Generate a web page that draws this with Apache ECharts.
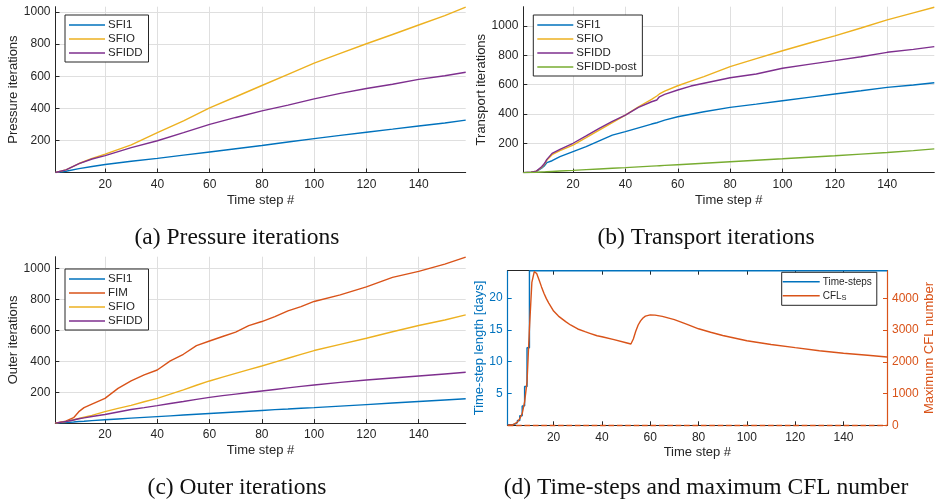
<!DOCTYPE html>
<html><head><meta charset="utf-8">
<script src="https://cdn.jsdelivr.net/npm/echarts@6/dist/echarts.min.js"></script>
<style>html,body{margin:0;padding:0;background:#fff}#c{width:937px;height:504px}</style>
</head><body><div id="c"></div>
<script>
// ---------- data ----------
const xTicks = [20, 40, 60, 80, 100, 120, 140];

// (a) Pressure iterations
const stepsA = [1,5,10,15,20,30,40,50,60,70,80,90,100,110,120,130,140,150,158];
const pressSFI1  = [0,8,24,37,50,70,88,108,128,148,168,190,211,231,251,270,290,308,326];
const pressSFIO  = [0,16,56,88,115,172,249,322,403,472,542,612,681,742,802,860,919,977,1030];
const pressSFIDD = [0,16,55,84,105,155,198,248,300,343,384,420,459,493,523,550,580,603,625];
const yTicksA = [200, 400, 600, 800, 1000];

// (b) Transport iterations
const stepsB = [1,4,6,8,9,10,12,15,20,25,30,35,40,45,50,52,53,55,60,65,70,80,90,100,110,120,130,140,150,158];
const transSFI1  = [0,2,8,30,45,68,81,109,143,177,217,255,279,305,331,340,346,358,381,398,415,445,467,490,513,536,558,581,597,613];
const transSFIO  = [0,2,9,35,55,85,122,150,188,238,290,340,392,449,499,522,536,556,592,624,654,722,777,831,882,932,986,1041,1089,1127];
const transSFIDD = [0,2,10,40,60,90,131,158,200,250,302,350,392,444,483,495,517,533,563,590,609,647,672,711,738,763,790,820,840,859];
const transPost  = [0,1,2,4,5,6,8,11,15,20,25,30,34,39,44,46,47,49,54,59,64,74,84,94,105,115,126,137,150,162];
const yTicksB = [200, 400, 600, 800, 1000];

// (c) Outer iterations
const stepsC = [1,5,8,10,12,15,20,25,30,35,40,45,50,55,60,65,70,75,80,85,90,95,100,110,120,130,140,150,158];
const outerSFI1  = [0,4,7,10,12,16,22,27,32,37,42,47,52,57,62,67,72,77,82,87,91,96,100,110,120,130,140,150,158];
const outerFIM   = [0,13,35,74,100,123,160,225,273,312,344,403,446,502,532,561,589,632,658,690,727,755,788,831,883,944,983,1030,1075];
const outerSFIO  = [0,10,22,30,38,50,74,95,115,138,160,188,215,245,273,298,322,346,370,395,420,445,470,510,550,592,632,668,701];
const outerSFIDD = [0,10,20,28,34,43,56,72,88,100,113,127,140,154,167,178,188,198,208,218,228,238,247,264,279,292,305,318,329];
const yTicksC = [200, 400, 600, 800, 1000];

// (d) Time-steps and maximum CFL number
const tsSteps = [1,2,3,4,5,6,7,8,9,10,158];
const tsDays  = [0.1,0.1,0.2,0.4,0.75,1.5,3.05,6.1,12.2,24.3,24.3];
const cflSteps = [1,3,5,6,7,8,9,10,11,12,13,14,15,16,17,18,20,22,25,27,30,33,35,38,40,45,50,52,53,54,55,56,57,58,60,62,65,70,75,80,85,90,100,110,120,130,140,150,158];
const cflS = [0,10,100,210,370,740,1370,3050,4500,4840,4780,4580,4360,4160,3990,3850,3600,3440,3265,3160,3034,2950,2898,2820,2790,2700,2600,2560,2720,2960,3160,3290,3380,3440,3480,3470,3430,3330,3190,3040,2930,2830,2665,2545,2446,2350,2268,2205,2150];
const yTicksDLeft = [5, 10, 15, 20];
const yTicksDRight = [0, 1000, 2000, 3000, 4000];

// ---------- styling ----------
const C = {blue:'#0072BD', orange:'#D95319', yellow:'#EDB120', purple:'#7E2F8E', green:'#77AC30'};
const AX = '#262626', GRID = '#dfdfdf';
const FONT = '"Liberation Sans", Arial, sans-serif';
const SERIF = '"Liberation Serif", "Times New Roman", serif';
const plain = v => String(v);

function pairs(xs, ys){ return xs.map((x,i)=>[x, ys[i]]); }

function xAxisOf(gi, opts){
  return Object.assign({
    type:'value', gridIndex:gi, min:1, max:158,
    name:'Time step #', nameLocation:'middle', nameGap:21,
    nameTextStyle:{color:AX, fontSize:13, fontFamily:FONT},
    axisLine:{show:true, onZero:false, lineStyle:{color:AX, width:1}},
    axisTick:{show:true, inside:true, length:4, customValues:xTicks, lineStyle:{color:AX}},
    axisLabel:{show:true, customValues:xTicks, color:AX, fontSize:12, fontFamily:FONT, margin:6, formatter:plain},
    splitLine:{show:true, lineStyle:{color:GRID, width:1}}
  }, opts||{});
}
function yAxisOf(gi, max, ticks, name, gap, opts){
  return Object.assign({
    type:'value', gridIndex:gi, min:0, max:max,
    name:name, nameLocation:'middle', nameGap:gap,
    nameTextStyle:{color:AX, fontSize:13, fontFamily:FONT},
    axisLine:{show:true, onZero:false, lineStyle:{color:AX, width:1}},
    axisTick:{show:true, inside:true, length:4, customValues:ticks, lineStyle:{color:AX}},
    axisLabel:{show:true, customValues:ticks, color:AX, fontSize:12, fontFamily:FONT, margin:5, formatter:plain},
    splitLine:{show:true, lineStyle:{color:GRID, width:1}}
  }, opts||{});
}
function lineS(name, xi, yi, xs, ys, color, extra){
  return Object.assign({
    name:name, type:'line', xAxisIndex:xi, yAxisIndex:yi, data:pairs(xs, ys),
    showSymbol:false, symbol:'none', lineStyle:{color:color, width:1.4}, itemStyle:{color:color},
    animation:false, clip:true
  }, extra||{});
}
function legendOf(names, left, top, pad){
  return {
    data:names, orient:'vertical', left:left, top:top, itemGap:0,
    itemWidth:36, itemHeight:1.6, icon:'rect',
    backgroundColor:'#fff', borderColor:AX, borderWidth:1, borderRadius:0,
    padding:pad || [3,6,2,4], selectedMode:false,
    textStyle:{color:AX, fontSize:11.5, fontFamily:FONT, lineHeight:14, padding:[0,0,0,-2]}
  };
}

const chart = echarts.init(document.getElementById('c'), null, {renderer:'canvas'});
const option = {
  animation:false,
  backgroundColor:'#fff',
  grid:[
    {left:55.5, top:6.7, width:410.2, height:165.8},
    {left:523.3, top:6.7, width:411, height:165.9},
    {left:55.3, top:256.7, width:410.4, height:166.4},
    {left:507.7, top:270.7, width:384, height:154.6}
  ],
  xAxis:[
    xAxisOf(0), xAxisOf(1), xAxisOf(2),
    xAxisOf(3, {splitLine:{show:false}}),
    xAxisOf(3, {position:'top', name:'', axisLabel:{show:false, customValues:xTicks}, splitLine:{show:false}})
  ],
  yAxis:[
    yAxisOf(0, 1033, yTicksA, 'Pressure iterations', 31),
    yAxisOf(1, 1131, yTicksB, 'Transport iterations', 29),
    yAxisOf(2, 1078, yTicksC, 'Outer iterations', 30),
    yAxisOf(3, 24.3, yTicksDLeft, 'Time-step length [days]', 15.5, {
      nameTextStyle:{color:C.blue, fontSize:13, fontFamily:FONT},
      axisLine:{show:true, onZero:false, lineStyle:{color:C.blue, width:1.2}},
      axisTick:{show:true, inside:true, length:4, customValues:yTicksDLeft, lineStyle:{color:C.blue}},
      axisLabel:{show:true, customValues:yTicksDLeft, color:C.blue, fontSize:12, fontFamily:FONT, margin:5, formatter:plain},
      splitLine:{show:false}
    }),
    yAxisOf(3, 4870, yTicksDRight, 'Maximum CFL number', 36, {
      position:'right',
      nameTextStyle:{color:C.orange, fontSize:13, fontFamily:FONT},
      axisLine:{show:true, onZero:false, lineStyle:{color:C.orange, width:1.2}},
      axisTick:{show:true, inside:true, length:4, customValues:yTicksDRight, lineStyle:{color:C.orange}},
      axisLabel:{show:true, customValues:yTicksDRight, color:C.orange, fontSize:12, fontFamily:FONT, margin:5, formatter:plain},
      splitLine:{show:false}
    })
  ],
  legend:[
    legendOf(['SFI1','SFIO','SFIDD'], 65, 15),
    legendOf(['SFI1','SFIO','SFIDD','SFIDD-post'], 533.3, 15),
    legendOf(['SFI1','FIM','SFIO','SFIDD'], 65, 269),
    Object.assign(legendOf(['Time-steps','CFLS'], 781.7, 272.3, [3,5,3,1]), {
      itemWidth:37,
      formatter: function(n){ return n === 'CFLS' ? '{n|CFL}{s|S}' : n; },
      textStyle:{color:AX, fontSize:10, fontFamily:FONT, lineHeight:13, padding:[0,0,0,-2],
        rich:{ n:{fontSize:10, fontFamily:FONT, color:AX, lineHeight:13},
               s:{fontSize:7.5, fontFamily:FONT, color:AX, verticalAlign:'bottom', lineHeight:8, padding:[6,0,0,0]} } }
    })
  ],
  series:[
    lineS('SFI1', 0, 0, stepsA, pressSFI1, C.blue),
    lineS('SFIO', 0, 0, stepsA, pressSFIO, C.yellow),
    lineS('SFIDD', 0, 0, stepsA, pressSFIDD, C.purple),

    lineS('SFI1', 1, 1, stepsB, transSFI1, C.blue),
    lineS('SFIO', 1, 1, stepsB, transSFIO, C.yellow),
    lineS('SFIDD', 1, 1, stepsB, transSFIDD, C.purple),
    lineS('SFIDD-post', 1, 1, stepsB, transPost, C.green),

    lineS('SFI1', 2, 2, stepsC, outerSFI1, C.blue),
    lineS('FIM', 2, 2, stepsC, outerFIM, C.orange),
    lineS('SFIO', 2, 2, stepsC, outerSFIO, C.yellow),
    lineS('SFIDD', 2, 2, stepsC, outerSFIDD, C.purple),

    lineS('Time-steps', 3, 3, tsSteps, tsDays, C.blue, {step:'end', clip:false}),
    lineS('CFLS', 3, 4, cflSteps, cflS, C.orange, {
      markLine:{silent:true, symbol:'none', animation:false, label:{show:false},
        lineStyle:{color:C.orange, type:'dashed', width:1.4}, data:[{yAxis:0}]}})
  ],
  graphic:[
    {type:'text', x:237, y:238, style:{text:'(a) Pressure iterations', fontSize:23.5, fontFamily:SERIF, fill:'#111', align:'center', verticalAlign:'middle'}},
    {type:'text', x:706, y:238, style:{text:'(b) Transport iterations', fontSize:23.5, fontFamily:SERIF, fill:'#111', align:'center', verticalAlign:'middle'}},
    {type:'text', x:237, y:488, style:{text:'(c) Outer iterations', fontSize:23.5, fontFamily:SERIF, fill:'#111', align:'center', verticalAlign:'middle'}},
    {type:'text', x:706, y:488, style:{text:'(d) Time-steps and maximum CFL number', fontSize:23.5, fontFamily:SERIF, fill:'#111', align:'center', verticalAlign:'middle'}}
  ]
};
chart.setOption(option);
</script></body></html>
